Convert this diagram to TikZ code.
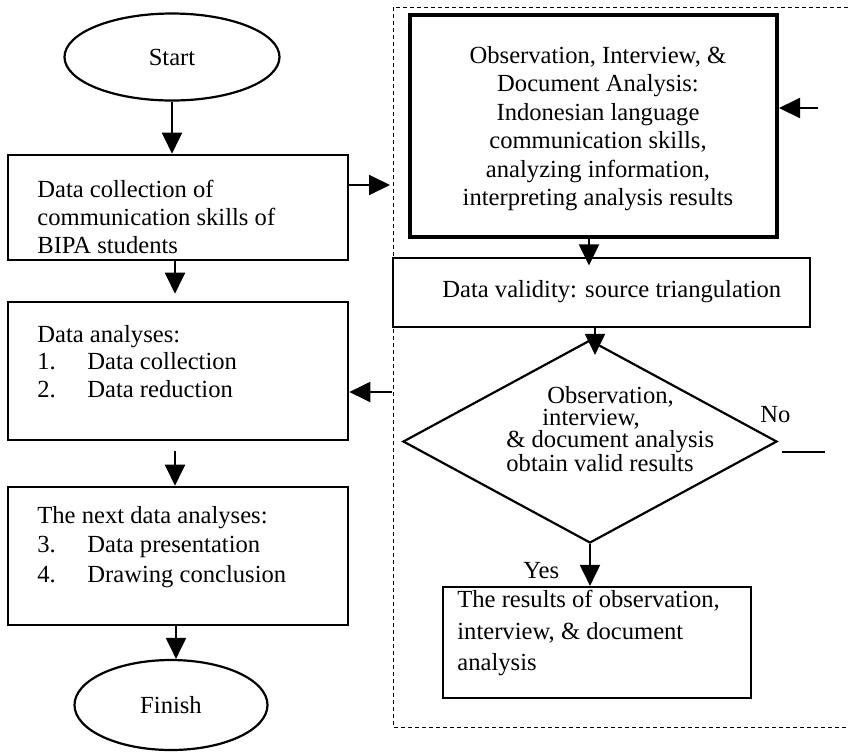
\documentclass[tikz,border=0pt]{standalone}
\usepackage{fontspec}
\setmainfont{Liberation Serif}
\usetikzlibrary{arrows.meta,shapes.geometric,calc}
\begin{document}
\begin{tikzpicture}[x=0.5pt,y=-0.5pt,
  every node/.style={font=\fontsize{12.3}{14}\selectfont},
  box/.style={draw,line width=1.3pt,rectangle,inner sep=0pt},
  txt/.style={inner sep=0pt,align=left,anchor=north west},
  lbl/.style={inner sep=0pt,anchor=base west},
  oval/.style={ellipse,draw,line width=1.1pt,inner sep=0pt},
  arr/.style={line width=1pt,-{Triangle[length=10.5pt,width=10pt]}},
]
\useasboundingbox (0,0) rectangle (848,752);
% left column
\node[oval,minimum width=107.5pt,minimum height=43.5pt] (start) at (172,57) {Start};
\node[box,minimum width=170pt,minimum height=52.5pt] (b1) at (178,207.5) {};
\node[txt] (t1) at (37,180) {Data collection of\\communication skills of\\BIPA students};
\node[box,minimum width=170pt,minimum height=69pt] (b2) at (178,371) {};
\node[txt,font=\fontsize{12.3}{13.75}\selectfont] (t2) at (37,325) {Data analyses:\\\makebox[25pt][l]{1.}Data collection\\\makebox[25pt][l]{2.}Data reduction};
\node[box,minimum width=170pt,minimum height=69pt] (b3) at (178,556) {};
\node[txt,font=\fontsize{12.3}{14.75}\selectfont] (t3) at (37,506) {The next data analyses:\\\makebox[25pt][l]{3.}Data presentation\\\makebox[25pt][l]{4.}Drawing conclusion};
\node[oval,minimum width=96.5pt,minimum height=45pt] (fin) at (171,705) {Finish};
% right column
\draw[dashed,dash pattern=on 2pt off 1.5pt,line width=0.5pt] (848,7) -| (393,727) -- (848,727);
\node[draw,line width=2pt,inner sep=0pt,minimum width=183.5pt,minimum height=111pt] (b4) at (593.5,126) {};
\node[inner sep=0pt,align=center,anchor=north,font=\fontsize{12.3}{14.2}\selectfont] (t4) at (598,46) {Observation, Interview, \&\\Document Analysis:\\Indonesian language\\communication skills,\\analyzing information,\\interpreting analysis results};
\node[draw,line width=0.6pt,inner sep=0pt,minimum width=208.5pt,minimum height=34.5pt] (b5) at (601.5,292.5) {};
\node[lbl] (t5) at (442,297) {Data validity: source triangulation};
\node[diamond,draw,line width=1.1pt,inner sep=0pt,minimum width=187pt,minimum height=101.5pt] (dia) at (590,441.5) {};
\node[txt,font=\fontsize{12.3}{11}\selectfont] (tdia) at (506,386) {\hspace*{20.5pt}Observation,\\\hspace*{18pt}interview,\\\& document analysis\\obtain valid results};
\node[draw,line width=1.1pt,inner sep=0pt,minimum width=154pt,minimum height=55.5pt] (b6) at (597,642.5) {};
\node[txt,font=\fontsize{12.3}{15.7}\selectfont] (t6) at (457,590) {The results of observation,\\interview, \& document\\analysis};
\node[lbl] (no) at (760,422) {No};
\node[lbl] (yes) at (523,578) {Yes};
% coordinates
\coordinate (fr1) at (390,185);
\coordinate (fr2) at (392,392);
\coordinate (fbk) at (818,108);
\coordinate (no1) at (782,452);
\coordinate (no2) at (825,452);
\coordinate (a3) at ($(b3.south)+(-2,0)$);
% connectors
\draw[arr] (start.south) -- (start.south |- b1.north);
\draw[arr] ($(b1.south)+(-3,0)$) -- ($(b2.north)+(-3,-7)$);
\draw[arr] ($(b2.south)+(-3,10)$) -- ($(b3.north)+(-3,0)$);
\draw[arr] (a3) -- (a3 |- fin.north);
\draw[arr] (b1.east |- fr1) -- (fr1);
\draw[arr] (fr2) -- (fr2 -| b2.east);
\draw[arr] (fbk) -- (fbk -| b4.east);
\draw[arr] ($(b4.south)+(-4.5,0)$) -- ($(b5.north)+(-12.5,8)$);
\draw[arr] ($(b5.south)+(-6.5,0)$) -- ($(dia.north)+(5,16)$);
\draw[arr] (dia.south) -- (dia.south |- b6.north);
\draw[line width=0.8pt] (no1) -- (no2);
\end{tikzpicture}
\end{document}
